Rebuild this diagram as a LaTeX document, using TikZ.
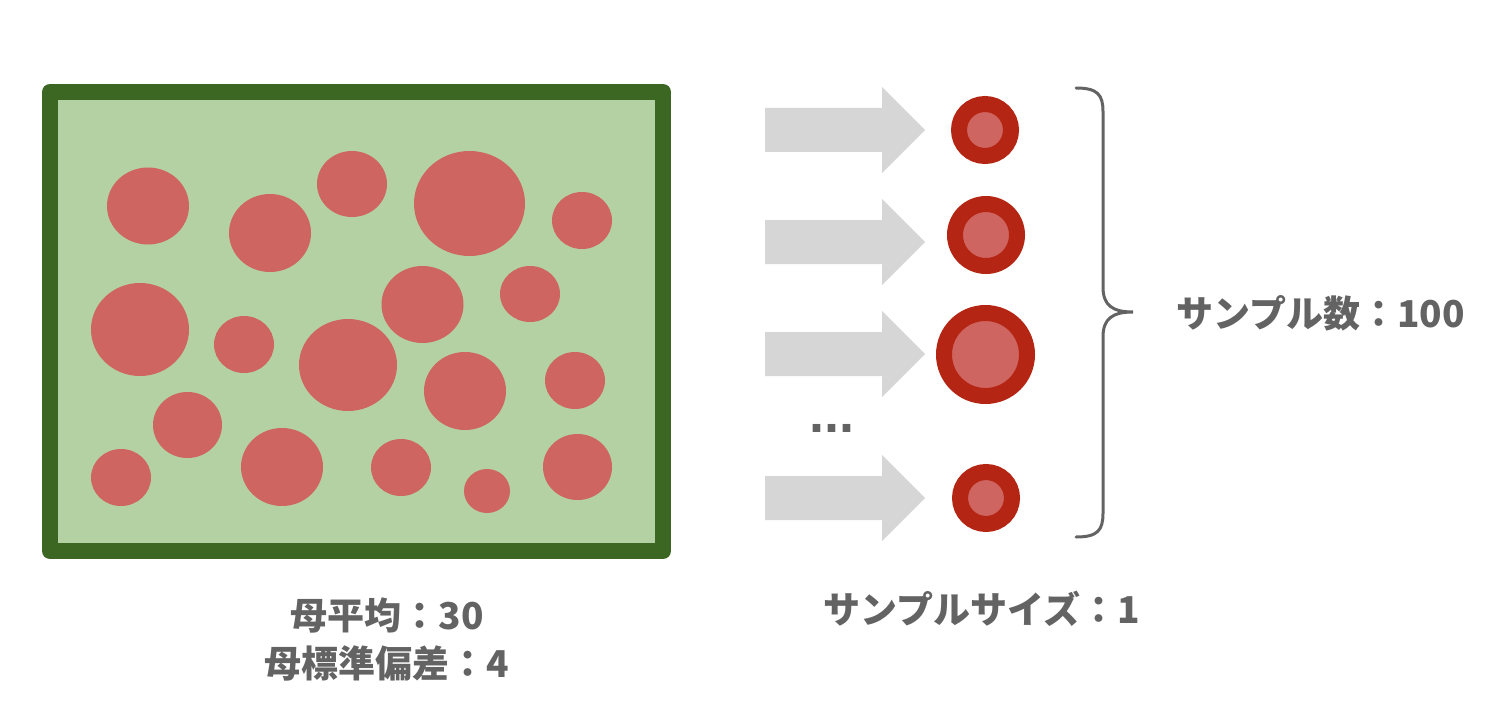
\documentclass[tikz,border=0pt]{standalone}
\usepackage{fontspec}
\newfontfamily\jpfont{Noto Sans CJK JP}
\newfontfamily\dotfont{Liberation Sans}
\usepackage{tikz}
\usetikzlibrary{positioning}
\definecolor{popgreen}{RGB}{60,103,34}
\definecolor{popfill}{RGB}{180,209,163}
\definecolor{popred}{RGB}{207,101,96}
\definecolor{ringred}{RGB}{181,37,19}
\definecolor{arrowgray}{RGB}{214,214,214}
\definecolor{textgray}{RGB}{99,99,99}

\begin{document}
\begin{tikzpicture}[
    x=1pt, y=-1pt,
    popbox/.style={draw=popgreen, line width=16pt, line join=round, fill=popfill, inner sep=0pt},
    grain/.style={fill=popred},
    sample/.style={circle, draw=ringred, line width=16pt, fill=popred, inner sep=0pt},
    shot/.style={fill=arrowgray},
    txt/.style={font=\jpfont\bfseries\fontsize{37}{42}\selectfont, text=textgray, inner sep=0pt},
    brace/.style={draw=textgray, line width=3pt, line cap=round}
]
    \useasboundingbox (0,0) rectangle (1506,714);

    % Population
    \node[popbox, minimum width=613pt, minimum height=459pt] (pop) at (356.5,321.5) {};
    \fill[grain] (148,206) ellipse [x radius=41, y radius=38.5];
    \fill[grain] (270,233) ellipse [x radius=41, y radius=39];
    \fill[grain] (352,184) ellipse [x radius=35, y radius=33];
    \fill[grain] (469.5,203.5) ellipse [x radius=55.5, y radius=52.5];
    \fill[grain] (582,220.5) ellipse [x radius=30, y radius=28.5];
    \fill[grain] (140,329.5) ellipse [x radius=49, y radius=46.5];
    \fill[grain] (244,344.5) ellipse [x radius=30, y radius=28.5];
    \fill[grain] (348,365) ellipse [x radius=49, y radius=46];
    \fill[grain] (422.5,304.5) ellipse [x radius=41, y radius=38.5];
    \fill[grain] (530,294) ellipse [x radius=30, y radius=28];
    \fill[grain] (465,391) ellipse [x radius=41, y radius=39];
    \fill[grain] (575,380.5) ellipse [x radius=30, y radius=28.5];
    \fill[grain] (187.5,425) ellipse [x radius=34.5, y radius=33];
    \fill[grain] (282,467) ellipse [x radius=41, y radius=39];
    \fill[grain] (401,467.5) ellipse [x radius=30, y radius=28.5];
    \fill[grain] (121,477.5) ellipse [x radius=30, y radius=28.5];
    \fill[grain] (487,491) ellipse [x radius=23, y radius=22];
    \fill[grain] (577.5,467) ellipse [x radius=34.5, y radius=33];

    \node[txt, anchor=base] (mean) at (387,629) {母平均：30};
    \node[txt, anchor=base] (sd) at ([yshift=-48pt]mean.base) {母標準偏差：4};

    % Samples
    \node[sample, minimum size=52pt] (s1) at (985,130) {};
    \node[sample, minimum size=62pt] (s2) at (986,235) {};
    \node[sample, minimum size=83pt] (s3) at (985.5,354.5) {};
    \node[sample, minimum size=52pt] (s4) at (986,498) {};

    \fill[shot] (765,108) -- (882,108) -- (882,87) -- (925,130) -- (882,173) -- (882,152) -- (765,152) -- cycle;
    \fill[shot] (765,220) -- (882,220) -- (882,199) -- (925,242) -- (882,285) -- (882,264) -- (765,264) -- cycle;
    \fill[shot] (765,332) -- (882,332) -- (882,311) -- (925,354) -- (882,397) -- (882,376) -- (765,376) -- cycle;
    \fill[shot] (765,476) -- (882,476) -- (882,455) -- (925,498) -- (882,541) -- (882,520) -- (765,520) -- cycle;

    \node[inner sep=0pt, anchor=base west, text=textgray, font=\dotfont\bfseries\fontsize{54}{60}\selectfont] (more) at (809,432) {...};

    \node[txt, anchor=base] (size) at (982,623) {サンプルサイズ：1};

    % Brace over the samples
    \draw[brace] (1076,88) .. controls (1098,88) and (1103,95) .. (1103,112) -- (1103,287)
        .. controls (1103,305) and (1112,312) .. (1133,312)
        .. controls (1112,312) and (1103,319) .. (1103,337) -- (1103,513)
        .. controls (1103,530) and (1098,537) .. (1076,537);
    \node[txt, anchor=base west] (count) at (1176,327) {サンプル数：100};

\end{tikzpicture}
\end{document}
